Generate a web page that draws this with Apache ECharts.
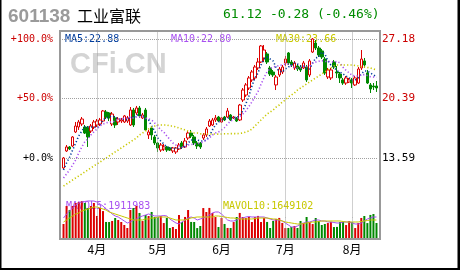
<!DOCTYPE html>
<html><head><meta charset="utf-8">
<script src="https://cdn.jsdelivr.net/npm/echarts@6.0.0/dist/echarts.min.js"></script>
<style>html,body{margin:0;padding:0;background:#fff}#c{width:460px;height:270px}</style>
</head><body><div id="c"></div>
<script>
// ---- text ----
const stockCode = '601138';
const stockName = '工业富联';
const quoteText = '61.12 -0.28 (-0.46%)';
const watermark = 'CFi.CN';
const monthLabels = ['4月', '5月', '6月', '7月', '8月'];
const monthIdx = [11, 31, 52, 73, 95];
const basePrice = 13.59;
const pctTicks = ['+0.0%', '+50.0%', '+100.0%'];
const priceTicks = ['13.59', '20.39', '27.18'];

// ---- candles: [open, close, low, high] ----
const candles = [
[12.45,13.59,12.33,13.70],[14.39,14.85,14.28,15.07],[14.85,14.62,14.50,14.96],[14.96,15.99,14.85,16.10],
[16.56,17.24,16.44,17.70],[17.13,17.70,16.79,17.93],[17.47,18.04,17.24,18.27],[17.13,16.44,16.33,17.36],
[17.02,15.99,14.85,17.24],[16.67,17.24,16.44,17.47],[17.13,17.70,16.90,17.93],[17.36,17.81,17.13,18.04],
[17.47,17.93,17.24,18.16],[17.81,18.96,17.70,19.07],[18.84,18.27,18.04,19.07],[18.73,18.16,17.81,18.84],
[17.47,18.61,17.24,18.84],[18.16,17.36,17.02,18.39],[17.70,18.04,17.36,18.27],[17.81,17.93,17.59,18.16],
[17.70,18.39,17.59,18.50],[17.81,18.16,17.59,18.39],[17.36,19.07,17.24,19.41],[19.07,17.36,17.13,19.30],
[18.73,19.30,18.50,19.53],[19.30,18.39,18.16,19.53],[18.16,18.50,18.04,18.73],[19.07,16.79,16.67,19.30],
[16.22,16.56,15.76,16.79],[17.02,16.22,15.65,17.13],[15.99,15.30,15.07,16.22],[15.30,14.73,14.28,15.42],
[14.50,15.07,14.28,15.30],[14.62,14.85,14.39,15.19],[14.85,14.50,14.28,14.96],[14.73,14.50,14.39,14.85],
[14.39,14.73,14.16,14.85],[14.28,14.73,14.05,14.85],[14.62,15.07,14.50,15.30],[15.30,14.85,14.62,15.53],
[14.85,15.53,14.73,15.87],[15.87,16.44,15.65,16.67],[16.44,16.10,15.87,16.79],[15.99,15.30,15.07,16.22],
[15.30,14.96,14.62,15.53],[15.30,14.85,14.62,15.42],[15.87,16.22,15.65,16.44],[16.22,16.90,15.99,17.13],
[17.24,17.81,17.13,18.04],[17.36,17.93,17.24,18.16],[17.93,18.16,17.70,18.50],[18.27,17.81,17.70,18.39],
[17.70,18.16,17.59,18.27],[18.27,17.93,17.81,18.39],[18.27,18.96,18.16,19.30],[18.50,17.93,17.81,18.61],
[18.16,18.27,18.04,18.39],[18.16,17.81,17.70,18.27],[17.93,19.64,17.81,19.76],[20.21,21.35,19.98,21.58],
[20.78,21.93,20.56,22.15],[21.58,22.73,21.35,22.95],[22.50,23.41,22.27,23.64],[22.73,23.98,22.50,24.21],
[23.87,24.55,23.64,25.01],[24.55,26.38,24.44,26.49],[25.01,25.92,24.55,26.49],[25.47,24.55,24.32,25.69],
[23.87,23.18,22.95,24.10],[23.41,23.07,22.84,23.64],[21.93,22.84,21.35,23.07],[23.07,23.75,22.84,23.98],
[23.41,23.98,23.18,24.21],[24.44,24.89,24.10,25.24],[25.58,24.44,24.21,25.69],[24.55,24.21,23.98,24.78],
[23.87,24.44,23.64,24.67],[24.10,23.75,23.52,24.32],[23.98,23.64,23.41,24.21],[23.87,24.44,23.75,24.67],
[23.98,22.50,22.27,24.21],[23.07,24.67,22.84,24.89],[25.69,27.18,25.58,27.29],[26.72,26.15,25.92,27.06],
[26.15,25.35,25.12,26.38],[25.81,25.12,24.89,26.04],[24.89,23.30,23.07,25.12],[22.84,23.64,22.61,23.87],
[22.73,23.64,22.50,23.87],[24.55,23.98,23.75,24.78],[23.41,23.30,22.73,24.10],[23.18,22.73,22.15,23.41],
[22.50,22.15,21.93,22.73],[22.15,22.73,21.93,22.95],[22.27,22.50,22.15,22.73],[22.50,22.15,21.58,22.73],
[21.93,22.73,21.81,22.95],[22.15,23.75,22.04,23.98],[23.87,24.89,23.64,25.92],[24.67,24.21,23.87,25.01],
[23.30,22.15,22.04,23.64],[21.93,21.47,21.01,22.15],[21.81,21.70,21.35,22.15],[21.81,21.58,21.13,22.38]
];

const ma5 = [
12.22,13.02,13.70,14.50,15.30,16.10,16.67,17.13,17.13,17.13,
17.13,17.02,17.36,17.93,18.16,18.27,18.39,18.27,18.04,18.04,
18.04,17.93,18.27,18.16,18.50,18.50,18.50,18.04,17.93,17.24,
16.67,15.87,15.53,15.19,14.85,14.73,14.73,14.62,14.73,14.73,
14.96,15.30,15.65,15.65,15.65,15.53,15.53,15.65,16.10,16.79,
17.36,17.70,17.93,18.04,18.16,18.16,18.27,18.16,18.50,18.96,
19.76,20.67,21.81,22.73,23.30,24.21,24.89,25.12,24.89,24.67,
23.87,23.52,23.41,23.75,23.98,24.21,24.44,24.32,24.10,24.10,
23.75,23.75,24.44,25.01,25.12,25.69,25.47,24.67,24.21,23.98,
23.52,23.41,23.18,22.95,22.73,22.50,22.50,22.73,23.18,23.52,
23.52,23.30,23.07,22.88];

const ma10 = [
11.31,11.76,12.22,12.79,13.36,14.16,14.85,15.42,15.76,16.22,
16.56,16.90,17.24,17.47,17.59,17.70,17.70,17.81,18.04,18.04,
18.16,18.16,18.27,18.16,18.27,18.27,18.27,18.16,18.04,17.93,
17.59,17.24,16.79,16.56,16.10,15.70,15.30,15.07,14.96,14.85,
14.85,15.07,15.13,15.19,15.19,15.30,15.42,15.65,15.87,16.22,
16.44,16.56,16.79,17.07,17.47,17.81,17.99,18.08,18.27,18.61,
18.96,19.47,19.99,20.60,21.16,22.01,22.77,23.44,23.80,23.97,
24.06,24.16,24.22,24.31,24.30,24.08,23.94,23.86,23.90,24.04,
24.00,24.10,24.42,24.54,24.63,24.72,24.61,24.60,24.60,24.55,
24.63,24.44,23.94,23.59,23.31,23.01,22.95,22.96,23.09,23.11,
23.00,22.87,22.83,22.80];

const ma30 = [
10.39,10.62,10.85,11.08,11.31,11.53,11.76,11.99,12.22,12.45,
12.68,12.90,13.13,13.36,13.59,13.82,14.05,14.28,14.50,14.73,
14.96,15.19,15.42,15.65,15.87,16.22,16.44,16.67,16.90,17.13,
17.24,17.36,17.36,17.36,17.36,17.24,17.24,17.13,17.02,16.90,
16.79,16.67,16.56,16.44,16.44,16.35,16.33,16.32,16.33,16.34,
16.33,16.31,16.33,16.35,16.36,16.37,16.38,16.36,16.39,16.44,
16.56,16.67,16.90,17.24,17.59,17.93,18.27,18.61,18.84,19.07,
19.41,19.64,19.98,20.21,20.56,20.78,21.01,21.35,21.58,21.81,
22.04,22.27,22.50,22.73,22.95,23.18,23.41,23.64,23.87,24.10,
24.21,24.21,24.21,24.21,24.21,24.21,24.15,24.10,24.04,23.98,
23.93,23.87,23.75,23.66];

const volumes = [
1306400,2868200,2529700,2874500,3127900,3221300,3302800,3139600,2694100,2866700,
3130200,2004300,2701800,2430600,1482100,1475300,1569900,1826400,1651200,1480600,
1216800,955400,2525100,2698700,2869300,2264800,1563200,2090400,1998700,2352600,
1911500,1916300,2003900,1389200,1831700,958600,1046200,867400,2086900,1477800,
1918200,2521400,1484300,1479100,951200,1128700,2692300,2346800,2703500,2258100,
1909600,1042800,1823900,1309700,962300,953900,1476400,1915200,2267300,1912800,
1829100,1920400,1481700,1908300,2007600,1478200,1825600,1483900,956800,1567300,
1741200,1832800,1395600,949700,960200,1048300,1133900,958100,1564500,1391800,
1913700,1480200,1302100,1828500,1571200,1219300,1308800,1388400,1485600,1039500,
1051700,1477300,1482800,1214600,1566900,1479600,953100,1394700,1830600,2001200,
1386300,2093800,2172400,1392500];

const mavol5 = [
1826500,2174800,2437200,2696100,2958900,3131700,3219400,3262100,3305800,3306900,
3304600,3218700,3045800,2870400,2609300,2436800,2175600,2000900,1914300,1740600,
1566200,1391700,1479400,1652800,1740300,1913800,2001400,2087600,2175300,2088400,
2001700,2000600,2002100,2044300,2001500,1740900,1565800,1392400,1305600,1478700,
1653400,1827300,1914100,1826800,1652600,1740200,1827600,1913600,2088200,2262500,
2349100,2348600,2175100,1914600,1652300,1566400,1565700,1653100,1826900,1827400,
1914200,1957300,1913900,1914500,1913400,1914800,1914000,1827100,1740400,1652900,
1653300,1652500,1566100,1392300,1218400,1044200,1043800,1131300,1305200,1392100,
1479100,1478800,1566300,1652700,1653000,1565900,1566500,1479300,1478600,1435700,
1391900,1392200,1479200,1478900,1479500,1391600,1305300,1304800,1392600,1566000,
1740100,1827200,1914400,1911983];

const mavol10 = [
1478600,1652900,1827400,2000700,2175300,2261600,2436300,2522800,2609700,2697400,
2783600,2784300,2696800,2610200,2522600,2348700,2262300,2174600,2088300,2001200,
1913700,1827200,1740500,1652600,1653400,1652800,1653100,1739800,1740600,1826800,
1827500,1913900,1914200,1913600,1914400,1827100,1740200,1653300,1652700,1653000,
1652400,1740300,1826900,1870700,1913800,1914300,1913500,1914100,1914600,1913900,
2001300,2000800,1957600,1914000,1870300,1827300,1826600,1783700,1740100,1739900,
1740400,1740700,1739600,1783400,1826700,1827600,1827000,1826400,1783800,1740000,
1739700,1652500,1566200,1479300,1435800,1392200,1348300,1305300,1304900,1348700,
1392400,1435300,1478900,1479400,1522700,1566400,1565800,1566100,1566600,1565700,
1566300,1565900,1522300,1479100,1478700,1479200,1478500,1479600,1522600,1566000,
1609300,1652800,1653200,1649102];

// ---- build ----
const categories = candles.map((_, i) => 'd' + i);
const RED = '#dd0000', GREEN = '#008800';
const step = basePrice / 2;
const priceMin = step;          // one step below the base
const priceMax = 28.09;
const volMax = 3480000;
const last = a => a[a.length - 1];
const mono = '"DejaVu Sans Mono", monospace';
const C_MA5 = '#003c9c', C_MA10 = '#a850f0', C_MA30 = '#c8c800';

const volData = volumes.map((v, i) => ({
  value: v,
  itemStyle: { color: candles[i][1] >= candles[i][0] ? RED : GREEN }
}));

const gridLine = { color: '#a0a0a0', type: [1, 1], width: 1 };
const maStyle = c => ({ color: c, width: 1.6, type: [1.2, 2.2], cap: 'butt' });

const chart = echarts.init(document.getElementById('c'), null, { renderer: 'canvas' });
chart.setOption({
  animation: false,
  backgroundColor: '#ffffff',
  grid: [
    { left: 62, right: 82, top: 31, height: 186.5 },
    { left: 62, right: 82, top: 199, height: 40 }
  ],
  xAxis: [
    { type: 'category', gridIndex: 0, data: categories, boundaryGap: true,
      axisLine: { show: false }, axisTick: { show: false }, axisLabel: { show: false }, splitLine: { show: false } },
    { type: 'category', gridIndex: 1, data: categories, boundaryGap: true,
      axisLine: { show: false }, axisTick: { show: false }, splitLine: { show: false },
      axisLabel: {
        show: true, margin: 4, color: '#000', fontSize: 12, fontFamily: '"Noto Sans CJK SC"',
        interval: (i) => monthIdx.indexOf(i) >= 0,
        formatter: (v, i) => { const k = monthIdx.indexOf(i); return k >= 0 ? monthLabels[k] : ''; }
      } }
  ],
  yAxis: [
    { type: 'value', gridIndex: 0, position: 'left', min: priceMin, max: priceMax, interval: step,
      axisLine: { show: false }, axisTick: { show: false },
      axisLabel: { showMinLabel: false, showMaxLabel: false, margin: 9,
        formatter: v => { const k = Math.round((v - basePrice) / step); const t = pctTicks[k]; return t ? (k > 0 ? '{r|' + t + '}' : '{k|' + t + '}') : ''; },
        rich: { r: { color: '#cc0000', fontFamily: mono, fontSize: 10 }, k: { color: '#000', fontFamily: mono, fontSize: 10 } } },
      splitLine: { show: true, showMinLine: false, showMaxLine: false, lineStyle: gridLine } },
    { type: 'value', gridIndex: 0, position: 'right', min: priceMin, max: priceMax, interval: step,
      axisLine: { show: false }, axisTick: { show: false }, splitLine: { show: false },
      axisLabel: { showMinLabel: false, showMaxLabel: false, margin: 4,
        formatter: v => { const k = Math.round((v - basePrice) / step); const t = priceTicks[k]; return t ? (k > 0 ? '{r|' + t + '}' : '{k|' + t + '}') : ''; },
        rich: { r: { color: '#cc0000', fontFamily: mono, fontSize: 11 }, k: { color: '#000', fontFamily: mono, fontSize: 11 } } } },
    { type: 'value', gridIndex: 1, min: 0, max: volMax, show: false, splitLine: { show: false } }
  ],
  graphic: [
    { type: 'text', z: 0, style: { text: stockCode, x: 8, y: 17, verticalAlign: 'middle', fill: '#9a9a9a', font: 'bold 19px "Liberation Sans", Arial' } },
    { type: 'text', z: 0, style: { text: stockName, x: 77, y: 16, verticalAlign: 'middle', fill: '#000', font: '16px "Noto Sans CJK SC"' } },
    { type: 'text', z: 0, style: { text: quoteText, x: 223, y: 15, verticalAlign: 'middle', fill: '#008c00', font: '13px ' + mono } },
    { type: 'text', z: 0, style: { text: watermark, x: 70, y: 65, verticalAlign: 'middle', fill: '#d4d4d4', font: 'bold 29px "Liberation Sans", Arial' } },
    { type: 'text', z: 0, style: { text: 'MA5:' + last(ma5).toFixed(2), x: 65, y: 39, verticalAlign: 'middle', fill: C_MA5, font: '10px ' + mono } },
    { type: 'text', z: 0, style: { text: 'MA10:' + last(ma10).toFixed(2), x: 171, y: 39, verticalAlign: 'middle', fill: C_MA10, font: '10px ' + mono } },
    { type: 'text', z: 0, style: { text: 'MA30:' + last(ma30).toFixed(2), x: 276, y: 39, verticalAlign: 'middle', fill: C_MA30, font: '10px ' + mono } },
    { type: 'text', z: 0, style: { text: 'MAVOL5:' + last(mavol5), x: 66, y: 206, verticalAlign: 'middle', fill: C_MA10, font: '10px ' + mono } },
    { type: 'text', z: 0, style: { text: 'MAVOL10:' + last(mavol10), x: 223, y: 206, verticalAlign: 'middle', fill: C_MA30, font: '10px ' + mono } },
    { type: 'rect', z: 10, silent: true, shape: { x: 60, y: 31, width: 320, height: 208 }, style: { fill: 'none', stroke: '#999', lineWidth: 2 } },
    { type: 'rect', z: 10, silent: true, shape: { x: 0, y: 0, width: 1.5, height: 270 }, style: { fill: '#000' } },
    { type: 'rect', z: 10, silent: true, shape: { x: 457.5, y: 0, width: 2.5, height: 270 }, style: { fill: '#000' } },
    { type: 'rect', z: 10, silent: true, shape: { x: 0, y: 268, width: 460, height: 2 }, style: { fill: '#000' } }
  ],
  series: [
    { type: 'candlestick', xAxisIndex: 0, yAxisIndex: 0, data: candles, barWidth: 3, z: 3,
      itemStyle: { color: '#ffffff', color0: GREEN, borderColor: RED, borderColor0: GREEN, borderWidth: 1 },
      markLine: { silent: true, symbol: 'none', label: { show: false }, lineStyle: gridLine,
        data: monthIdx.map(i => ({ xAxis: i })) } },
    { type: 'line', xAxisIndex: 0, yAxisIndex: 0, data: ma5, showSymbol: false, z: 4, lineStyle: maStyle(C_MA5) },
    { type: 'line', xAxisIndex: 0, yAxisIndex: 0, data: ma10, showSymbol: false, z: 4, lineStyle: maStyle(C_MA10) },
    { type: 'line', xAxisIndex: 0, yAxisIndex: 0, data: ma30, showSymbol: false, z: 4, lineStyle: maStyle(C_MA30) },
    { type: 'bar', xAxisIndex: 1, yAxisIndex: 2, data: volData, barWidth: 2, z: 3,
      markLine: { silent: true, symbol: 'none', label: { show: false }, lineStyle: gridLine,
        data: monthIdx.map(i => [{ coord: [i, volMax * 0.5375] }, { coord: [i, 0] }]) } },
    { type: 'line', xAxisIndex: 1, yAxisIndex: 2, data: mavol5, showSymbol: false, z: 4,
      lineStyle: { color: C_MA10, width: 1 } },
    { type: 'line', xAxisIndex: 1, yAxisIndex: 2, data: mavol10, showSymbol: false, z: 4,
      lineStyle: { color: C_MA30, width: 1 } }
  ]
});
</script>
</body></html>
